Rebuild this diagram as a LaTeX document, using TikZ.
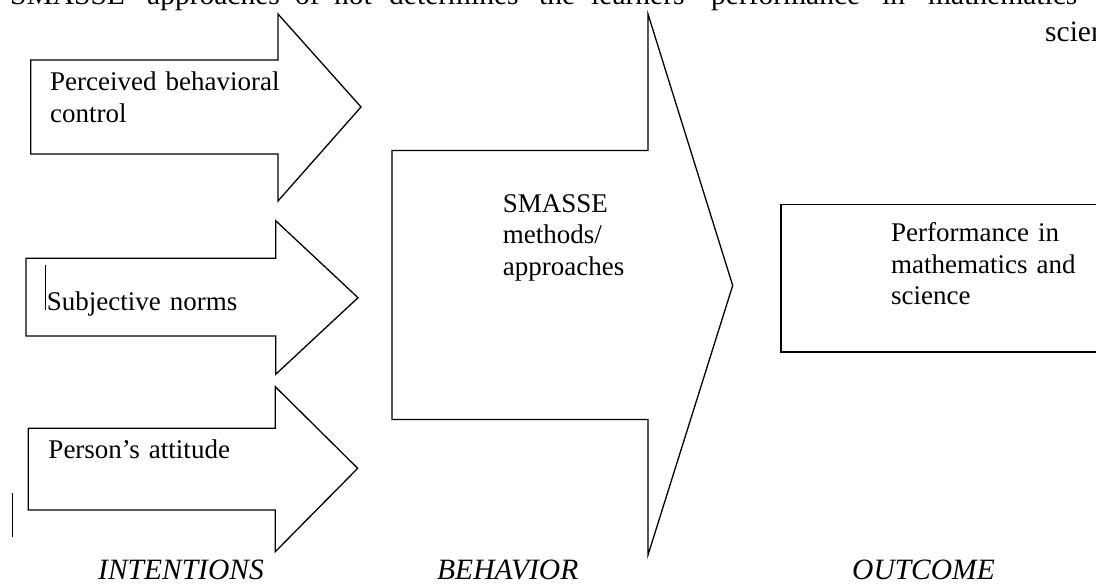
\documentclass[tikz,border=0pt]{standalone}
\usepackage{fontspec}
\setmainfont{Liberation Serif}
\begin{document}
\begin{tikzpicture}[x=1pt,y=-1pt,
  blockshape/.style={draw=black,line width=1.3pt,line join=miter,fill=white},
  boxshape/.style={draw=black,line width=1.6pt,fill=white},
  bodytext/.style={font=\fontsize{27}{31.5}\selectfont,inner sep=0pt,anchor=base west,align=left,text width=260pt},
  toptext/.style={font=\fontsize{29.5}{34}\selectfont,inner sep=0pt,anchor=base west},
  stagelabel/.style={font=\fontsize{29.5}{34}\selectfont\itshape,inner sep=0pt,anchor=base west},
  stray/.style={draw=black,line width=1.2pt}
]
\useasboundingbox (0,0) rectangle (1096,584);
\begin{scope}
\clip (0,0) rectangle (1096,584);
% top (cut) paragraph line
\node[toptext] (w1) at (10,4) {SMASSE};
\node[toptext] (w2) at (147,4) {approaches};
\node[toptext] (w3) at (295,4) {of};
\node[toptext] (w4) at (334,4) {not};
\node[toptext] (w5) at (389,4) {determines};
\node[toptext] (w6) at (539,4) {the};
\node[toptext] (w7) at (591,4) {learners’};
\node[toptext] (w8) at (711,4) {performance};
\node[toptext] (w9) at (882,4) {in};
\node[toptext] (w10) at (928,4) {mathematics};
\node[toptext] (w11) at (1045,41) {science};

% intention arrows
\draw[blockshape] (30.7,60) -- (278,60) -- (278,14) -- (361,107) -- (278,201) -- (278,154) -- (30.7,154) -- cycle;
\draw[blockshape] (26,258.3) -- (275.7,258.3) -- (275.7,220.7) -- (358,297.7) -- (275.7,374.3) -- (275.7,336) -- (26,336) -- cycle;
\draw[blockshape] (28.3,428.3) -- (275.3,428.3) -- (275.3,386.7) -- (357.7,468.3) -- (275.3,551.7) -- (275.3,510) -- (28.3,510) -- cycle;

% behaviour arrow
\draw[blockshape] (392,150.5) -- (648,150.5) -- (648,14) -- (732.7,285.5) -- (648,555) -- (648,419.5) -- (392,419.5) -- cycle;

% outcome box
\draw[boxshape] (781,204.3) rectangle (1110,351.7);

% texts
\node[bodytext] (pbc) at (50,90.7) {Perceived behavioral\\control};
\node[bodytext] (sn) at (46.7,310) {Subjective norms};
\node[bodytext] (pa) at (48.3,458.3) {Person’s attitude};
\node[bodytext] (smasse) at (502.7,212) {SMASSE\\methods/\\approaches};
\node[bodytext] (perf) at (891,241.7) {Performance in\\mathematics and\\science};

% stray cursor marks
\coordinate (c1a) at (45.7,265);
\coordinate (c1b) at (45.7,310);
\draw[draw=black,line width=0.9pt] (c1a) -- (c1b);
\coordinate (c2a) at (12.7,492.7);
\coordinate (c2b) at (12.7,536.7);
\draw[stray] (c2a) -- (c2b);

% stage labels
\node[stagelabel] (intent) at (98,579) {INTENTIONS};
\node[stagelabel] (behav) at (437,579) {BEHAVIOR};
\node[stagelabel] (outc) at (852,579) {OUTCOME};
\end{scope}
\end{tikzpicture}
\end{document}
